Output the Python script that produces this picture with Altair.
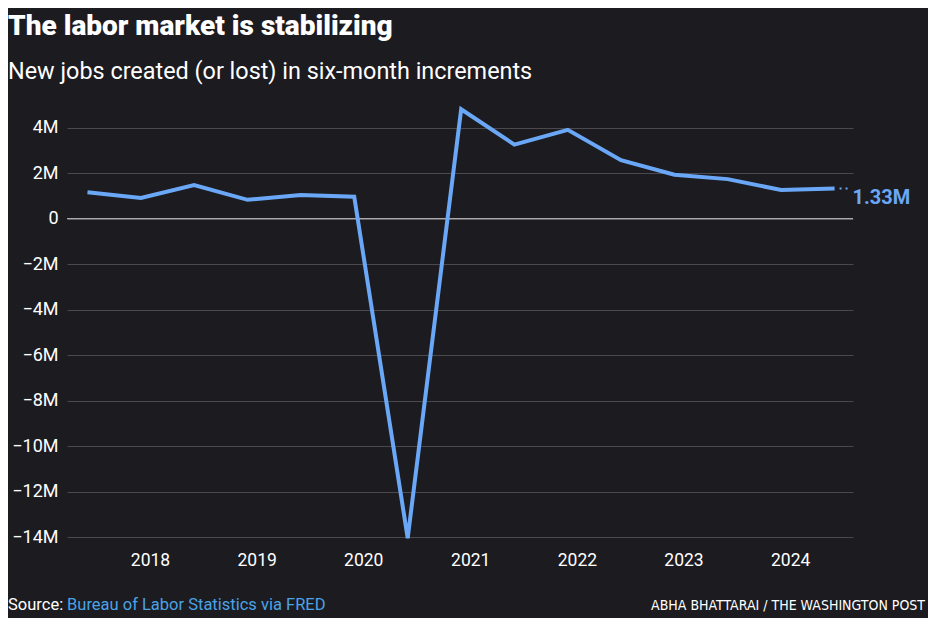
import altair as alt
import pandas as pd

# ---- data (millions of jobs, six-month increments) ----
dates = ["2017-06-01", "2017-12-01", "2018-06-01", "2018-12-01", "2019-06-01",
         "2019-12-01", "2020-06-01", "2020-12-01", "2021-06-01", "2021-12-01",
         "2022-06-01", "2022-12-01", "2023-06-01", "2023-12-01", "2024-06-01"]
jobs_m = [1.16, 0.91, 1.48, 0.83, 1.04, 0.97, -14.05, 4.81, 3.26, 3.91,
          2.57, 1.93, 1.74, 1.26, 1.33]
years = [2018, 2019, 2020, 2021, 2022, 2023, 2024]
y_ticks = [4, 2, 0, -2, -4, -6, -8, -10, -12, -14]

BG = "#1c1b20"
LINE = "#6aa8f7"
SRC_BLUE = "#4aa3e6"
FONT = "Roboto"

df = pd.DataFrame({"date": dates, "jobs": jobs_m})
last = pd.DataFrame({"date": [dates[-1]], "jobs": [jobs_m[-1]],
                     "label": [f"{jobs_m[-1]:.2f}M"]})
leader = pd.DataFrame({"date": ["2024-06-18"], "date2": ["2024-07-28"],
                       "jobs": [jobs_m[-1]]})

x_scale = alt.Scale(domain=["2017-03-23", "2024-08-03"])
y_scale = alt.Scale(domain=[-14, 5], nice=False, zero=False)

x_enc = alt.X("date:T", scale=x_scale, title=None,
              axis=alt.Axis(values=[alt.DateTime(year=y, month=1, date=1) for y in years],
                            format="%Y", grid=False, ticks=False, domain=False,
                            labelPadding=14, labelFontSize=17.5, labelColor="#ffffff",
                            labelFont=FONT))
y_enc = alt.Y("jobs:Q", scale=y_scale, title=None,
              axis=alt.Axis(values=y_ticks, grid=True, gridColor="#4a494e",
                            gridWidth=1, ticks=False, domain=False,
                            labelPadding=9, labelFontSize=18, labelColor="#ffffff",
                            labelFont=FONT,
                            labelExpr="datum.value == 0 ? '0' : (datum.value < 0 ? '\u2212' + abs(datum.value) + 'M' : datum.value + 'M')"))

base = alt.Chart(df)

line = base.mark_line(color=LINE, strokeWidth=4, strokeJoin="miter",
                      strokeCap="butt").encode(x=x_enc, y=y_enc)

zero = alt.Chart(pd.DataFrame({"z": [0]})).mark_rule(
    color="#c9c9c9", strokeWidth=1).encode(y=alt.Y("z:Q", scale=y_scale))

dots = alt.Chart(leader).mark_rule(color=LINE, strokeWidth=2,
                                   strokeDash=[2, 4]).encode(
    x=alt.X("date:T", scale=x_scale), x2="date2:T",
    y=alt.Y("jobs:Q", scale=y_scale))

lab = alt.Chart(last).mark_text(align="left", baseline="middle", dx=18, dy=10,
                                font=FONT, fontSize=20, fontWeight="bold",
                                color=LINE).encode(
    x=alt.X("date:T", scale=x_scale), y=alt.Y("jobs:Q", scale=y_scale),
    text="label:N")

foot = pd.DataFrame({"t": [0]})
src1 = alt.Chart(foot).mark_text(align="left", baseline="alphabetic", font=FONT,
                                 fontSize=16.5, color="#ffffff", text="Source:").encode(
    x=alt.value(-59), y=alt.value(505))
src2 = alt.Chart(foot).mark_text(align="left", baseline="alphabetic", font=FONT,
                                 fontSize=16.5, color=SRC_BLUE,
                                 text="Bureau of Labor Statistics via FRED").encode(
    x=alt.value(0), y=alt.value(505))
credit = alt.Chart(foot).mark_text(align="right", baseline="alphabetic",
                                   font="Liberation Sans Narrow, DejaVu Sans Condensed, sans-serif",
                                   fontSize=14, fontWeight=500, color="#ffffff",
                                   text="ABHA BHATTARAI / THE WASHINGTON POST").encode(
    x=alt.value(858), y=alt.value(505))

chart = alt.layer(zero, line, dots, lab, src1, src2, credit).properties(
    width=786, height=432,
    padding={"left": 59, "top": 97, "right": 75, "bottom": 81},
    autosize=alt.AutoSizeParams(type="none"),
    background=BG,
    title=alt.TitleParams(
        text="The labor market is stabilizing",
        subtitle="New jobs created (or lost) in six-month increments",
        anchor="start", frame="group", dx=-59, offset=18,
        font=FONT, fontSize=28, fontWeight=900, color="#ffffff",
        subtitleFont=FONT, subtitleFontSize=23.4, subtitleColor="#ffffff",
        subtitlePadding=20),
).configure_view(stroke=None)

chart.save("out.html", embed_options={"renderer": "svg", "actions": False})
